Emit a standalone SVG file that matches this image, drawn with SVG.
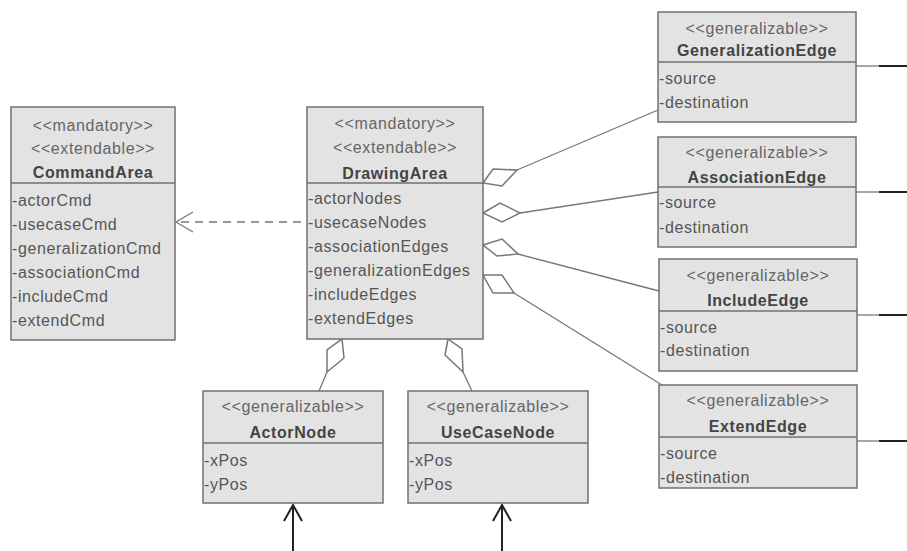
<svg xmlns="http://www.w3.org/2000/svg" width="907" height="551" viewBox="0 0 907 551">
<style>
.box{fill:#e3e3e3;stroke:#707070;stroke-width:1.5}
.div{stroke:#707070;stroke-width:1.5}
text{font-family:"Liberation Sans",Arial,sans-serif;font-size:16px;letter-spacing:0.6px;fill:#555}
.st{fill:#666;text-anchor:middle}
.nm{font-weight:bold;fill:#444;text-anchor:middle}
.cn{fill:none;stroke:#777;stroke-width:1.3}
.dia{fill:#fff;stroke:#777;stroke-width:1.5}
.ext{stroke:#222;stroke-width:2}
</style>
<rect width="907" height="551" fill="#fff"/>
<g id="connectors">
<line class="cn" x1="483" y1="222" x2="176" y2="222" stroke-dasharray="8,6"/>
<polyline class="cn" points="193,212 176,222 193,232" stroke-width="1.5"/>
<line class="cn" x1="517" y1="170" x2="658" y2="110"/>
<polygon class="dia" points="483,183 493,169 517,170 502,186"/>
<line class="cn" x1="520" y1="213" x2="658" y2="192"/>
<polygon class="dia" points="483,213 500,203 520,213 502,222"/>
<line class="cn" x1="518" y1="254" x2="659" y2="291"/>
<polygon class="dia" points="483,245 502,239 518,254 497,256"/>
<line class="cn" x1="514" y1="293" x2="662" y2="385"/>
<polygon class="dia" points="483,275 502,275 514,293 493,293"/>
<line class="cn" x1="327" y1="372" x2="319" y2="391"/>
<polygon class="dia" points="342,339 344,358 327,372 327,350"/>
<line class="cn" x1="463" y1="372" x2="472" y2="391"/>
<polygon class="dia" points="448,339 445,355 463,372 462,349"/>
<line class="cn" x1="856" y1="66" x2="879" y2="66"/><line class="ext" x1="879" y1="66" x2="907" y2="66"/>
<line class="cn" x1="856" y1="192" x2="879" y2="192"/><line class="ext" x1="879" y1="192" x2="907" y2="192"/>
<line class="cn" x1="857" y1="315" x2="879" y2="315"/><line class="ext" x1="879" y1="315" x2="907" y2="315"/>
<line class="cn" x1="857" y1="441" x2="879" y2="441"/><line class="ext" x1="879" y1="441" x2="907" y2="441"/>
<line class="ext" x1="293" y1="551" x2="293" y2="505"/>
<polyline fill="none" stroke="#222" stroke-width="2" points="284,521 293,505 302,521"/>
<line class="ext" x1="502" y1="551" x2="502" y2="505"/>
<polyline fill="none" stroke="#222" stroke-width="2" points="493,521 502,505 511,521"/>
</g>
<g id="CommandArea">
<rect class="box" x="11" y="107" width="164" height="233"/>
<line class="div" x1="11" y1="183" x2="175" y2="183"/>
<text class="st" x="93" y="131">&lt;&lt;mandatory&gt;&gt;</text>
<text class="st" x="93" y="154">&lt;&lt;extendable&gt;&gt;</text>
<text class="nm" x="93" y="178">CommandArea</text>
<text x="12" y="206">-actorCmd</text>
<text x="12" y="230">-usecaseCmd</text>
<text x="12" y="254">-generalizationCmd</text>
<text x="12" y="278">-associationCmd</text>
<text x="12" y="302">-includeCmd</text>
<text x="12" y="326">-extendCmd</text>
</g>
<g id="DrawingArea">
<rect class="box" x="307" y="107" width="176" height="232"/>
<line class="div" x1="307" y1="183" x2="483" y2="183"/>
<text class="st" x="395" y="129">&lt;&lt;mandatory&gt;&gt;</text>
<text class="st" x="395" y="153">&lt;&lt;extendable&gt;&gt;</text>
<text class="nm" x="395" y="179">DrawingArea</text>
<text x="308" y="204">-actorNodes</text>
<text x="308" y="228">-usecaseNodes</text>
<text x="308" y="252">-associationEdges</text>
<text x="308" y="276">-generalizationEdges</text>
<text x="308" y="300">-includeEdges</text>
<text x="308" y="324">-extendEdges</text>
</g>
<g id="GeneralizationEdge">
<rect class="box" x="658" y="12" width="198" height="110"/>
<line class="div" x1="658" y1="62" x2="856" y2="62"/>
<text class="st" x="757" y="34">&lt;&lt;generalizable&gt;&gt;</text>
<text class="nm" x="757" y="56">GeneralizationEdge</text>
<text x="659" y="84">-source</text>
<text x="659" y="108">-destination</text>
</g>
<g id="AssociationEdge">
<rect class="box" x="658" y="137" width="198" height="110"/>
<line class="div" x1="658" y1="187" x2="856" y2="187"/>
<text class="st" x="757" y="158">&lt;&lt;generalizable&gt;&gt;</text>
<text class="nm" x="757" y="183">AssociationEdge</text>
<text x="659" y="208">-source</text>
<text x="659" y="233">-destination</text>
</g>
<g id="IncludeEdge">
<rect class="box" x="659" y="259" width="198" height="112"/>
<line class="div" x1="659" y1="311" x2="857" y2="311"/>
<text class="st" x="758" y="281">&lt;&lt;generalizable&gt;&gt;</text>
<text class="nm" x="758" y="306">IncludeEdge</text>
<text x="660" y="333">-source</text>
<text x="660" y="356">-destination</text>
</g>
<g id="ExtendEdge">
<rect class="box" x="659" y="385" width="198" height="103"/>
<line class="div" x1="659" y1="437" x2="857" y2="437"/>
<text class="st" x="758" y="406">&lt;&lt;generalizable&gt;&gt;</text>
<text class="nm" x="758" y="432">ExtendEdge</text>
<text x="660" y="459">-source</text>
<text x="660" y="483">-destination</text>
</g>
<g id="ActorNode">
<rect class="box" x="203" y="391" width="180" height="112"/>
<line class="div" x1="203" y1="443" x2="383" y2="443"/>
<text class="st" x="293" y="412">&lt;&lt;generalizable&gt;&gt;</text>
<text class="nm" x="293" y="438">ActorNode</text>
<text x="204" y="466">-xPos</text>
<text x="204" y="490">-yPos</text>
</g>
<g id="UseCaseNode">
<rect class="box" x="408" y="391" width="180" height="112"/>
<line class="div" x1="408" y1="443" x2="588" y2="443"/>
<text class="st" x="498" y="412">&lt;&lt;generalizable&gt;&gt;</text>
<text class="nm" x="498" y="438">UseCaseNode</text>
<text x="409" y="466">-xPos</text>
<text x="409" y="490">-yPos</text>
</g>
</svg>
